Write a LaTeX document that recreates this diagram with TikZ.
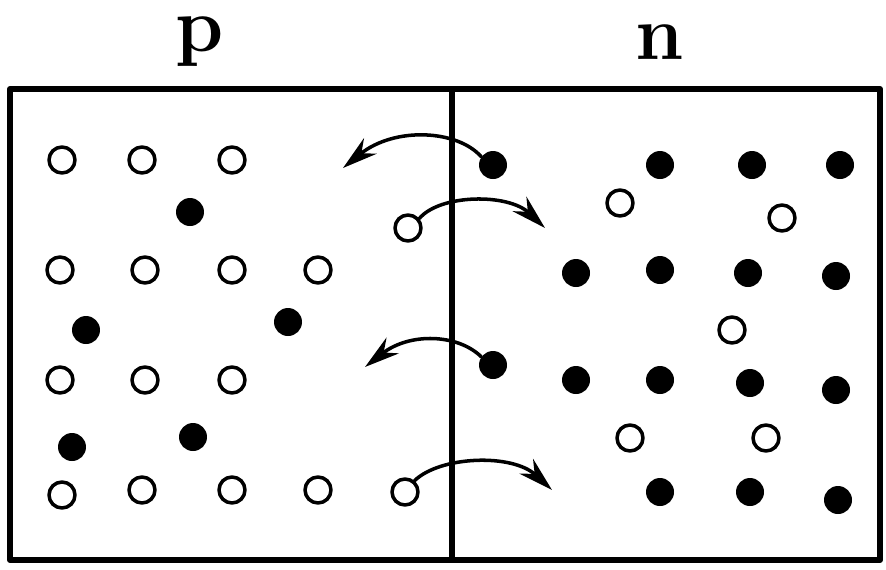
\documentclass[tikz,border=0pt]{standalone}
\usepackage{tikz}
\usetikzlibrary{arrows.meta}

\begin{document}
\begin{tikzpicture}[
  x=0.02cm,y=-0.02cm,
  line cap=round,
  line join=round,
  wall/.style={draw=black,line width=3.4pt},
  hole/.style={circle,draw=black,fill=white,line width=2pt,minimum size=0.52cm,inner sep=0pt},
  elec/.style={circle,fill=black,minimum size=0.56cm,inner sep=0pt},
  move/.style={draw=black,line width=2pt,-{Stealth[length=0.7cm,width=0.4cm]}},
  side/.style={font=\fontsize{44}{48}\selectfont\bfseries,inner sep=0pt}
]
  \useasboundingbox (0,0) rectangle (886,569);

  % Crystal and junction
  \draw[wall] (10,89) rectangle (880,560);
  \draw[wall] (452,89) -- (452,560);

  % Labels
  \node[side] (lp) at (200,42) {p};
  \node[side] (ln) at (660,42) {n};

  % p side: holes
  \foreach \x/\y [count=\i] in {62/160,142/160,232/160,
      60/270,145/270,232/270,318/270,
      60/380,145/380,232/380,
      62/495,142/490,232/490,318/490}
    \node[hole] (ph\i) at (\x,\y) {};
  % p side: electrons
  \foreach \x/\y [count=\i] in {190/212,86/330,288/322,72/447,193/437}
    \node[elec] (pe\i) at (\x,\y) {};

  % n side: electrons
  \foreach \x/\y [count=\i] in {660/165,752/165,840/165,
      576/273,660/270,748/273,836/276,
      576/380,660/380,750/383,836/390,
      660/492,750/492,838/500}
    \node[elec] (ne\i) at (\x,\y) {};
  % n side: holes
  \foreach \x/\y [count=\i] in {620/203,782/218,732/330,630/438,766/438}
    \node[hole] (nh\i) at (\x,\y) {};

  % Carriers crossing the junction
  \node[elec] (je1) at (493,165) {};
  \node[hole] (jh1) at (408,228) {};
  \node[elec] (je2) at (493,365) {};
  \node[hole] (jh2) at (405,492) {};

  \coordinate (t1) at (343,168);
  \coordinate (t2) at (545,228);
  \coordinate (t3) at (365,367);
  \coordinate (t4) at (552,490);

  \draw[move] (je1.145) .. controls (458,130) and (395,126) .. (t1);
  \draw[move] (jh2.50) .. controls (440,456) and (512,453) .. (t4);
  \draw[move] (jh1.40) .. controls (440,194) and (508,193) .. (t2);
  \draw[move] (je2.145) .. controls (458,334) and (410,332) .. (t3);
\end{tikzpicture}
\end{document}
